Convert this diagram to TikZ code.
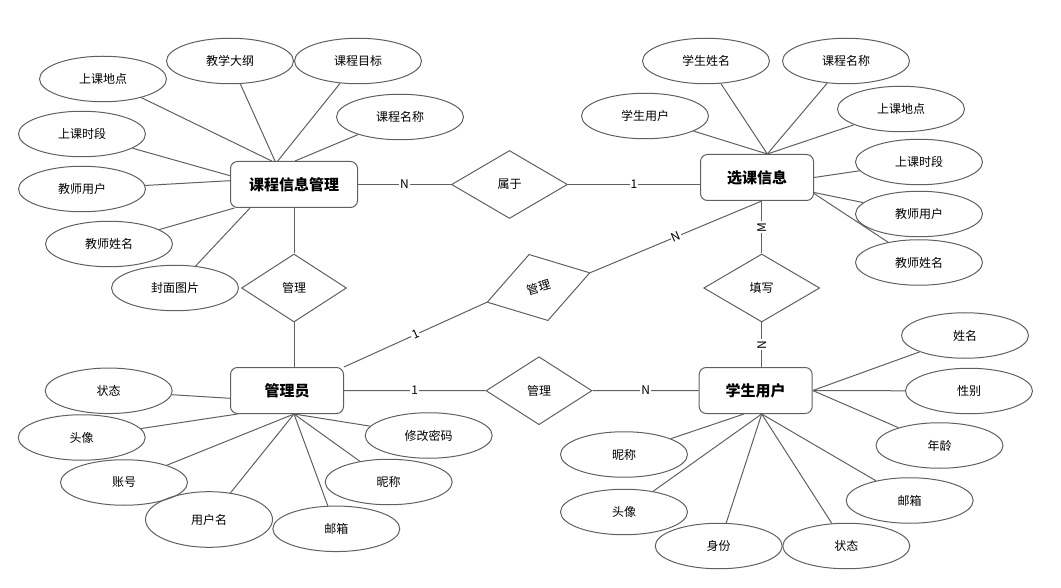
\documentclass[tikz,border=0pt]{standalone}
\usepackage{fontspec}
\setmainfont{Noto Sans CJK SC}
\usetikzlibrary{shapes.geometric}
\definecolor{lc}{RGB}{96,96,96}
\begin{document}
\begin{tikzpicture}[x=1pt,y=-1pt,
  every node/.style={font=\fontsize{12}{14}\selectfont, text=black},
  ent/.style={draw=lc, line width=1pt, rounded corners=7pt, minimum width=113pt, minimum height=46pt, inner sep=0pt, font=\fontsize{15}{18}\selectfont\bfseries},
  attr/.style={draw=lc, ellipse, line width=1pt, minimum width=127pt, minimum height=45.5pt, inner sep=0pt},
  rel/.style={draw=lc, diamond, line width=1pt, minimum width=116pt, minimum height=68pt, inner sep=0pt},
  conn/.style={draw=lc, line width=1pt},
  card/.style={fill=white, inner sep=1pt, font=\fontsize{12}{14}\selectfont}
]
\useasboundingbox (0,0) rectangle (1061,588);

% entities
\node[ent, minimum width=127pt] (kc) at (294,184.5) {课程信息管理};
\node[ent] (xk) at (757,177.5) {选课信息};
\node[ent] (gly) at (287,390.5) {管理员};
\node[ent] (xs) at (755.7,390.5) {学生用户};

% relations
\node[rel] (sy) at (509.5,184.5) {属于};
\node[rel, minimum width=105pt] (mg1) at (294,288) {管理};
\node[rel, minimum width=107pt, minimum height=69pt, rotate=16] (mg2) at (538.5,287.5) {管理};
\node[rel, minimum width=106pt] (mg3) at (539,390.7) {管理};
\node[rel] (tx) at (761.7,288) {填写};

% attributes of 课程信息管理
\node[attr] (a1) at (103,79) {上课地点};
\node[attr] (a2) at (230,61) {教学大纲};
\node[attr] (a3) at (358,61) {课程目标};
\node[attr] (a4) at (400,117) {课程名称};
\node[attr] (a5) at (82,134) {上课时段};
\node[attr] (a6) at (82,189) {教师用户};
\node[attr] (a7) at (109,244) {教师姓名};
\node[attr] (a8) at (175,288) {封面图片};

% attributes of 选课信息
\node[attr] (b1) at (706,61) {学生姓名};
\node[attr] (b2) at (846,61) {课程名称};
\node[attr] (b3) at (645,116) {学生用户};
\node[attr] (b4) at (901,109) {上课地点};
\node[attr] (b5) at (919,162) {上课时段};
\node[attr] (b6) at (919,214) {教师用户};
\node[attr] (b7) at (919,262.5) {教师姓名};

% attributes of 管理员
\node[attr] (c1) at (108.7,390.8) {状态};
\node[attr] (c2) at (81.7,437.5) {头像};
\node[attr] (c3) at (124,482.5) {账号};
\node[attr, minimum height=55.6pt] (c4) at (209,519.5) {用户名};
\node[attr] (c5) at (336.3,528.8) {邮箱};
\node[attr] (c6) at (388.7,482) {昵称};
\node[attr] (c7) at (428.7,435.5) {修改密码};

% attributes of 学生用户
\node[attr] (d1) at (965,335.5) {姓名};
\node[attr] (d2) at (969,391) {性别};
\node[attr] (d3) at (939.5,445.5) {年龄};
\node[attr] (d4) at (909.7,500.5) {邮箱};
\node[attr] (d5) at (846.3,546) {状态};
\node[attr] (d6) at (718.7,546) {身份};
\node[attr] (d7) at (624,512) {头像};
\node[attr] (d8) at (624,454.5) {昵称};

% attribute connectors
\draw[conn] (a1) -- ([xshift=-22.3pt]kc.north);
\draw[conn] (a2) -- ([xshift=-19pt]kc.north);
\draw[conn] (a3) -- ([xshift=-16.3pt]kc.north);
\draw[conn] (a4) -- ([xshift=1pt]kc.north);
\draw[conn] (a5) -- ([yshift=8.8pt]kc.west);
\draw[conn] (a6) -- ([yshift=3.8pt]kc.west);
\draw[conn] (a7) -- ([xshift=4.5pt]kc.south west);
\draw[conn] (a8) -- ([xshift=20pt]kc.south west);

\draw[conn] (b1) -- ([xshift=10.3pt]xk.north);
\draw[conn] (b2) -- ([xshift=10.3pt]xk.north);
\draw[conn] (b3) -- ([xshift=10.3pt]xk.north);
\draw[conn] (b4) -- ([xshift=10.3pt]xk.north);
\draw[conn] (b5) -- (xk.east);
\draw[conn] (b6) -- ([yshift=-15pt]xk.east);
\draw[conn] (b7) -- ([yshift=-16pt]xk.east);

\draw[conn] (c1) -- ([yshift=-7.8pt]gly.west);
\draw[conn] (c2) -- ([xshift=7.6pt]gly.south west);
\draw[conn] (c3) -- ([xshift=7pt]gly.south);
\draw[conn] (c4) -- ([xshift=7pt]gly.south);
\draw[conn] (c5) -- ([xshift=7pt]gly.south);
\draw[conn] (c6) -- ([xshift=7pt]gly.south);
\draw[conn] (c7) -- ([xshift=7pt]gly.south);

\draw[conn] (d1) -- (xs.east);
\draw[conn] (d2) -- (xs.east);
\draw[conn] (d3) -- (xs.east);
\draw[conn] (d4) -- ([xshift=6pt]xs.south);
\draw[conn] (d5) -- ([xshift=6pt]xs.south);
\draw[conn] (d6) -- ([xshift=6pt]xs.south);
\draw[conn] (d7) -- ([xshift=6pt]xs.south);
\draw[conn] (d8) -- ([xshift=-11.7pt]xs.south);

% relationship connectors
\draw[conn] (kc.east) -- (sy.west) node[card, midway] {N};
\draw[conn] (sy.east) -- (sy.east -| xk.west) node[card, midway] {1};
\draw[conn] (kc.south) -- (mg1.north);
\draw[conn] (mg1.south) -- (mg1.south |- gly.north);
\draw[conn] (gly.north east) -- (mg2.west) node[card, midway, sloped] {1};
\draw[conn] (mg2.east) -- ([xshift=4.7pt]xk.south) node[card, midway, sloped] {N};
\draw[conn] (gly.east) -- (mg3.west) node[card, midway] {1};
\draw[conn] (mg3.east) -- (xs.west) node[card, midway] {N};
\draw[conn] ([xshift=4.7pt]xk.south) -- (tx.north) node[card, midway, rotate=90] {M};
\draw[conn] (tx.south) -- (tx.south |- xs.north) node[card, midway, rotate=90] {N};
\end{tikzpicture}
\end{document}
